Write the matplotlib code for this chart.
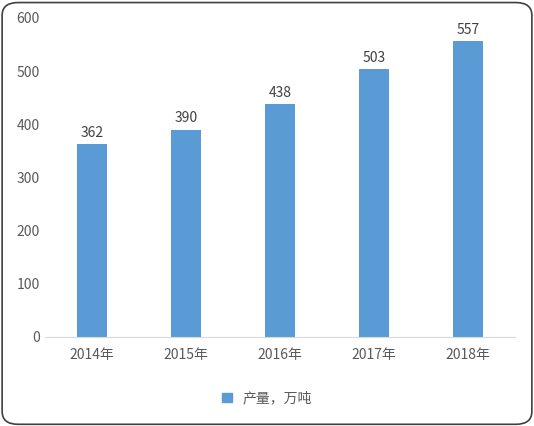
import matplotlib
matplotlib.use("Agg")
import matplotlib.pyplot as plt
from matplotlib.patches import FancyBboxPatch, Patch

plt.rcParams['font.family'] = ['Noto Sans CJK SC', 'DejaVu Sans']

categories = ['2014年', '2015年', '2016年', '2017年', '2018年']
values = [362, 390, 438, 503, 557]
series_name = '产量，万吨'
color = '#5B9BD5'

fig = plt.figure(figsize=(5.34, 4.26), dpi=100)
fig.patches.append(FancyBboxPatch((0.004, 0.004), 0.992, 0.99, boxstyle="round,pad=0,rounding_size=0.03",
                                  transform=fig.transFigure, fill=False, edgecolor='#404040', linewidth=1.2))
ax = fig.add_axes([0.084, 0.209, 0.88, 0.749])
x = range(len(categories))
bars = ax.bar(x, values, width=0.32, color=color)
for xi, v in zip(x, values):
    ax.text(xi, v + 8, str(v), ha='center', va='bottom', fontsize=10, color='#404040')
ax.set_ylim(0, 600)
ax.set_yticks(range(0, 601, 100))
ax.set_xlim(-0.5, len(categories) - 0.5)
ax.set_xticks(list(x))
ax.set_xticklabels(categories)
ax.tick_params(axis='both', length=0, labelsize=10, labelcolor='#595959')
ax.tick_params(axis='x', pad=8)
for s in ['top', 'right', 'left']:
    ax.spines[s].set_visible(False)
ax.spines['bottom'].set_color('#D9D9D9')
fig.legend(handles=[Patch(color=color, label=series_name)], loc='center', bbox_to_anchor=(0.5, 0.065),
           frameon=False, fontsize=10, labelcolor='#595959', handlelength=0.7, handleheight=0.7)
fig.savefig('out.png', dpi=100)
